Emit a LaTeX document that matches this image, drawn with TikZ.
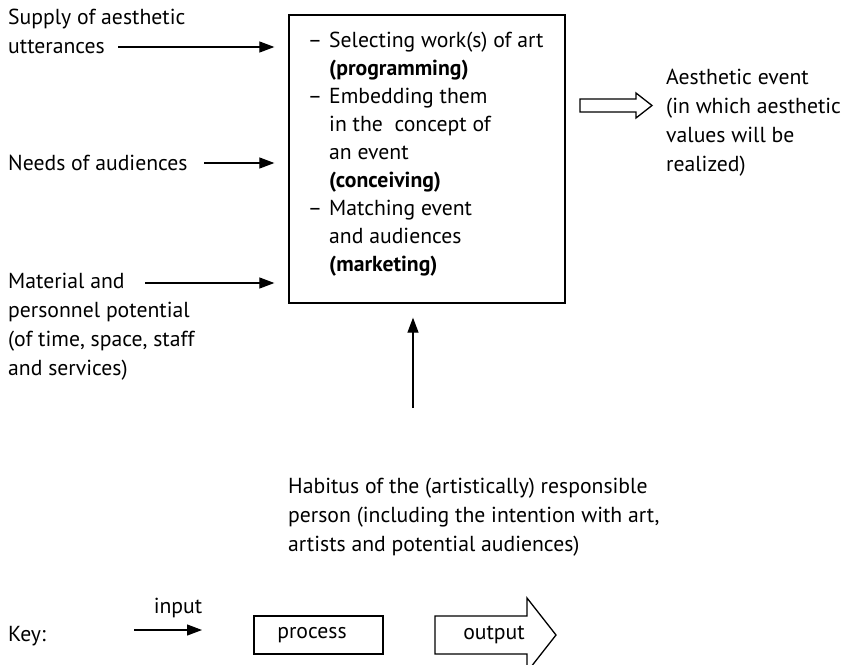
\documentclass[tikz,border=0pt]{standalone}
\usepackage{fontspec}
\setmainfont{PT Sans}
\usetikzlibrary{arrows.meta}

% multi-line nodes are placed by the baseline of their last line
\tikzset{
  txt/.style={inner sep=0pt, anchor=base west, align=left, font=\fontsize{21.7}{29.3}\selectfont},
  lbl/.style={inner sep=0pt, font=\fontsize{21.7}{29.3}\selectfont},
  inarrow/.style={line width=1.2pt, -{Triangle[length=15pt,width=11pt]}},
  frame/.style={draw, line width=1.3pt, inner sep=0pt},
  hollow/.style={draw, line width=1.3pt, fill=white, line join=miter}
}

\begin{document}
\begin{tikzpicture}[x=1pt,y=-1pt]
\useasboundingbox (0,0) rectangle (848,664);
\clip (0,0) rectangle (848,664);

% central process box
\node[frame, minimum width=276pt, minimum height=288pt] (proc) at (427,159) {};
\node[txt, font=\fontsize{21.7}{28}\selectfont] (steps) at (329,271) {%
\llap{–\hspace{7pt}}Selecting work(s) of art\\
\textbf{(programming)}\\
\llap{–\hspace{7pt}}Embedding them\\
in the\ \ concept of\\
an event\\
\textbf{(conceiving)}\\
\llap{–\hspace{7pt}}Matching event\\
and audiences\\
\textbf{(marketing)}};

% inputs on the left
\node[txt] (supply) at (8,53.3) {Supply of aesthetic\\utterances};
\node[txt] (needs) at (8,170) {Needs of audiences};
\node[txt] (material) at (8,375.9) {Material and\\personnel potential\\(of time, space, staff\\and services)};

\coordinate (s1) at (118,47);
\coordinate (s2) at (204,163);
\coordinate (s3) at (145,283);
\draw[inarrow, shorten >=14pt] (s1) -- (proc.west |- s1);
\draw[inarrow, shorten >=14pt] (s2) -- (proc.west |- s2);
\draw[inarrow, shorten >=14pt] (s3) -- (proc.west |- s3);

% output on the right
\draw[hollow] (580,99) -- (636,99) -- (636,93) -- (652,105.5) -- (636,118) -- (636,112) -- (580,112) -- cycle;
\node[txt] (event) at (666,171.9) {Aesthetic event\\(in which aesthetic\\values will be\\realized)};

% habitus from below
\node[txt] (habitus) at (288,551.6) {Habitus of the (artistically) responsible\\person (including the intention with art,\\artists and potential audiences)};
\coordinate (h0) at (413,408);
\draw[inarrow, shorten >=14pt] (h0) -- (proc.south -| h0);

% key
\node[txt] (key) at (8,641) {Key:};
\coordinate (k0) at (134,630);
\coordinate (k1) at (202,630);
\draw[inarrow] (k0) -- (k1);
\node[lbl, anchor=base] (inlbl) at (178,613) {input};
\node[frame, minimum width=129pt, minimum height=38pt] (pbox) at (318.5,635) {};
\node[lbl] (plbl) at (312,635) {process};
\draw[hollow] (435,616) -- (527,616) -- (527,598) -- (556,635) -- (527,672) -- (527,654) -- (435,654) -- cycle;
\node[lbl] (olbl) at (494,635) {output};
\end{tikzpicture}
\end{document}
